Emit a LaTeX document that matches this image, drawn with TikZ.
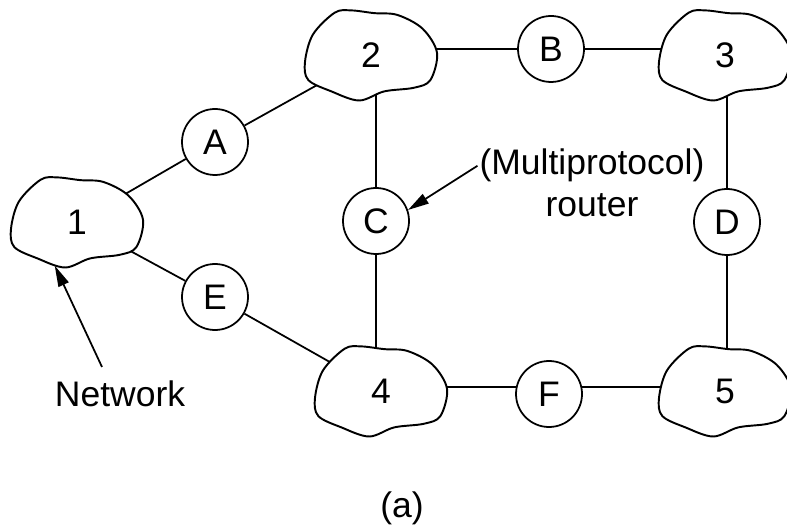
\documentclass[tikz,border=0pt]{standalone}
\usepackage{fontspec}
\setmainfont{Liberation Sans}
\usetikzlibrary{arrows.meta, shapes.geometric, calc}
\pgfdeclarelayer{wires}
\pgfdeclarelayer{blobs}
\pgfsetlayers{wires,blobs,main}

\begin{document}
\begin{tikzpicture}[
    font=\fontsize{20.2}{24}\selectfont,
    net/.style={
      ellipse, inner sep=0pt,
      minimum width=2.64cm, minimum height=1.84cm,
    },
    relay/.style={
      circle, draw, line width=1pt, fill=white,
      minimum size=1.32cm, inner sep=0pt,
    },
    cloudline/.style={line width=1.1pt, fill=white, line join=round},
    link/.style={line width=1pt},
    pointer/.style={-{Triangle[length=0.42cm, width=0.22cm]}, line width=1pt},
    caption/.style={anchor=base, inner sep=1pt},
]
\useasboundingbox (0,0) rectangle (15.74,-10.52);

% networks
\node[net] (n1) at (1.54,-4.44) {1};
\node[net] (n2) at (7.42,-1.10) {2};
\node[net] (n3) at (14.50,-1.10) {3};
\node[net] (n4) at (7.62,-7.82) {4};
\node[net] (n5) at (14.50,-7.82) {5};

\begin{pgfonlayer}{blobs}
\foreach \n in {n1,n2,n3,n4,n5}
  \draw[cloudline, shift={(\n.center)}, x=1.32cm, y=0.91cm]
    plot[smooth cycle, tension=0.55] coordinates {
      (-1.0,-0.15) (-0.88,0.45) (-0.55,0.93) (-0.30,0.98) (0.05,0.92)
      (0.40,0.88) (0.78,0.58) (1.0,0.05) (0.90,-0.55) (0.65,-0.72)
      (0.20,-0.80) (-0.18,-1.0) (-0.60,-0.80) (-0.95,-0.55)};
\end{pgfonlayer}

% routers
\node[relay] (A) at (4.30,-2.84) {A};
\node[relay] (E) at (4.30,-5.94) {E};
\node[relay] (B) at (11.02,-0.98) {B};
\node[relay] (C) at (7.52,-4.42) {C};
\node[relay] (D) at (14.54,-4.44) {D};
\node[relay] (F) at (10.98,-7.88) {F};

\begin{pgfonlayer}{wires}
\draw[link] (n1.center) -- (A) -- (n2.center);
\draw[link] (n1.center) -- (E) -- (n4.center);
\draw[link] (B.west) -- (B.west -| n2.center);
\draw[link] (B.east) -- (B.east -| n3.center);
\draw[link] (C.north) -- (C.north |- n2.center);
\draw[link] (C.south) -- (C.south |- n4.center);
\draw[link] (D.north) -- (D.north |- n3.center);
\draw[link] (D.south) -- (D.south |- n5.center);
\draw[link] (F.168) -- (F.168 -| n4.center);
\draw[link] (F.12) -- (F.12 -| n5.center);
\end{pgfonlayer}

% labels
\node[caption] (multi) at (11.84,-3.50) {(Multiprotocol)};
\node[caption] (routerword) at (11.84,-4.34) {router};
\node[caption] (netword) at (2.40,-8.14) {Network};
\node[caption] (sub) at (8.04,-10.34) {(a)};

\coordinate (netfoot) at (2.04,-7.34);
\draw[pointer] (netfoot) -- (n1.243);
\draw[pointer] (multi.west) -- (C.19);

\end{tikzpicture}
\end{document}
